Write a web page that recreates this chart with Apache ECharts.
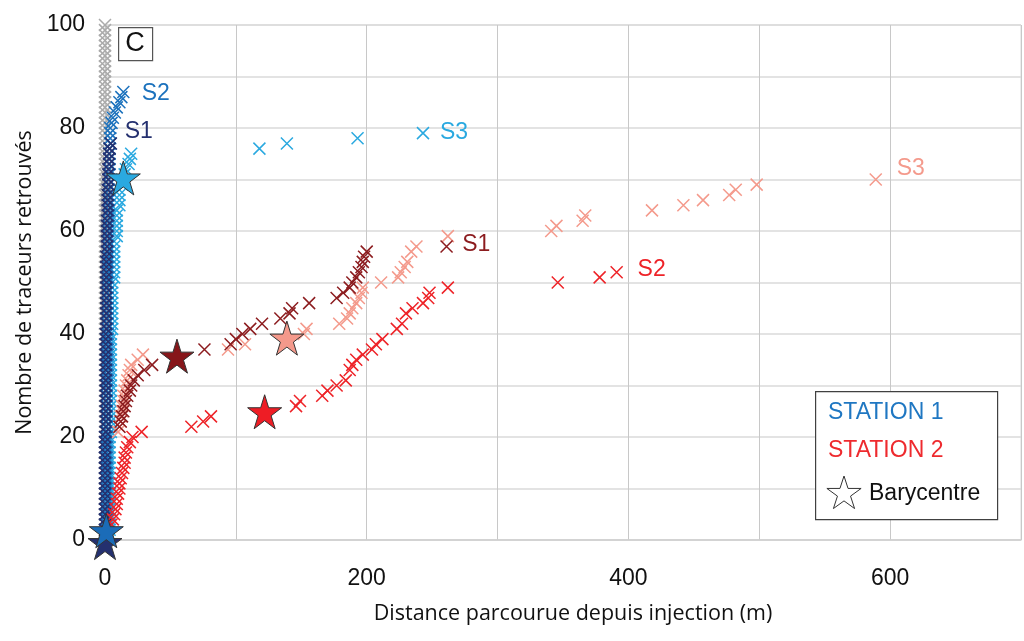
<!DOCTYPE html>
<html>
<head>
<meta charset="utf-8">
<script src="https://cdn.jsdelivr.net/npm/echarts@6/dist/echarts.min.js"></script>
<style>html,body{margin:0;padding:0;background:#fff}#c{width:1024px;height:641px}</style>
</head>
<body>
<div id="c"></div>
<script>
// ---------- DATA ----------
// Reference (grey) column
const grayX = [0,0,0,0,0,0,0,0,0,0, 0,0,0,0,0,0,0,0,0,0, 0,0,0,0,0,0,0,0,0,0, 0,0,0,0,0,0,0,0,0,0, 0,0,0,0,0,0,0,0,0,0, 0,0,0,0,0,0,0,0,0,0, 0,0,0,0,0,0,0,0,0,0, 0,0,0,0,0,0,0,0,0,0, 0,0,0,0,0,0,0,0,0,0, 0,0,0,0,0,0,0,0,0,0];
const grayY = [1,2,3,4,5,6,7,8,9,10, 11,12,13,14,15,16,17,18,19,20, 21,22,23,24,25,26,27,28,29,30, 31,32,33,34,35,36,37,38,39,40, 41,42,43,44,45,46,47,48,49,50, 51,52,53,54,55,56,57,58,59,60, 61,62,63,64,65,66,67,68,69,70, 71,72,73,74,75,76,77,78,79,80, 81,82,83,84,85,86,87,88,89,90, 91,92,93,94,95,96,97,98,99,100];

// STATION 1
const st1S1X = [0,0,0,0,0,0,0,0,0,0, 0,0,0,0,0,0,0,0,0,0, 0.5,0.5,0.5,0.5,0.5,0.5,0.5,0.5,0.5,0.5, 0.5,0.5,0.5,0.5,0.5,0.5,0.5,0.5,0.5,0.5, 1,1,1,1,1,1,1,1,1,1, 1,1,1,1,1, 1.5,1.5,1.5,1.5,1.5,1.5,1.5, 2,2,2,2,2,2, 2.5,2.5,2.5,2.5, 3,3,3, 3.5,4.5];
const st1S1Y = [1,2,3,4,5,6,7,8,9,10, 11,12,13,14,15,16,17,18,19,20, 21,22,23,24,25,26,27,28,29,30, 31,32,33,34,35,36,37,38,39,40, 41,42,43,44,45,46,47,48,49,50, 51,52,53,54,55, 56,57,58,59,60,61,62, 63,64,65,66,67,68, 69,70,71,72, 73,74,75, 76,77];

const st1S2X = [1.5,1.5,1.5,1.5,1.5,1.5,1.5,1.5,1.5,1.5, 1.5,1.5,1.5,1.5,1.5,1.5,1.5,1.5,1.5,1.5, 1.5,1.5,1.5,1.5,1.5,1.5,1.5,1.5,1.5,1.5, 2,2,2,2,2,2,2,2,2,2, 2,2,2,2,2,2,2,2,2,2, 2.5,2.5,2.5,2.5,2.5,2.5,2.5,2.5,2.5,2.5,2.5,2.5, 3,3,3,3,3,3,3,3, 3.5,3.5,3.5,3.5,3.5,3.5, 4,4,4, 4,5,6,7.5,9,11,12.5,14];
const st1S2Y = [1,2,3,4,5,6,7,8,9,10, 11,12,13,14,15,16,17,18,19,20, 21,22,23,24,25,26,27,28,29,30, 31,32,33,34,35,36,37,38,39,40, 41,42,43,44,45,46,47,48,49,50, 51,52,53,54,55,56,57,58,59,60,61,62, 63,64,65,66,67,68,69,70, 71,72,73,74,75,76, 77,78,79, 80,81,82,83,84,85,86,87];

const st1S3X = [3.5,3.5,3.5,3.5,3.5,3.5,3.5,3.5,3.5,3.5, 3.5,3.5,3.5,3.5,3.5,3.5,3.5,3.5,3.5,3.5, 4.5,4.5,4.5,4.5,4.5,4.5,4.5,4.5,4.5,4.5, 4.5,4.5,4.5,4.5,4.5,4.5,4.5,4.5,4.5,4.5, 5.5,5.5,5.5,5.5,5.5,5.5,5.5,5.5,5.5,5.5, 7,7,7,7,7,7,7,7, 9,9,9,9,9,9, 11,11,11,11, 13,13, 15,16,18,19,20, 118,139,193,243];
const st1S3Y = [1,2,3,4,5,6,7,8,9,10, 11,12,13,14,15,16,17,18,19,20, 21,22,23,24,25,26,27,28,29,30, 31,32,33,34,35,36,37,38,39,40, 41,42,43,44,45,46,47,48,49,50, 51,52,53,54,55,56,57,58, 59,60,61,62,63,64, 65,66,67,68, 69,70, 71,72,73,74,75, 76,77,78,79];

// STATION 2
const st2S1X = [11,12,13,14,15,16,17,19,20,22,25,30,36,76,96,100,105,111,120,134,141,143,156,177,182,187,189,192,194,196,197,198,200,261];
const st2S1Y = [22,23,24,25,26,27,28,29,30,31,32,33,34,37,38,39,40,41,42,43,44,45,46,47,48,49,50,51,52,53,54,55,56,57];

const st2S2X = [5,6,7,8,9,9,10,11,11,12,13,14,15,15,16,17,19,21,28,66,75,81,146,149,166,170,177,184,187,189,192,197,204,207,212,223,227,230,235,243,247,248,262,346,378,391];
const st2S2Y = [3,4,5,6,7,8,9,10,11,12,13,14,15,16,17,18,19,20,21,22,23,24,26,27,28,29,30,31,33,34,35,36,37,38,39,41,42,44,45,46,47,48,49,50,51,52];

const st2S3X = [10,11,12,12,13,13,14,14,15,16,17,18,19,20,25,29,94,107,152,154,179,185,187,189,192,194,196,197,211,224,226,229,231,234,238,262,341,345,365,367,418,442,457,477,482,498,589];
const st2S3Y = [21,22,23,24,25,26,27,28,29,30,31,32,33,34,35,36,37,38,40,41,42,43,44,45,46,47,48,49,50,51,52,53,54,56,57,59,60,61,62,63,64,65,66,67,68,69,70];

// Barycentres (stars): Station1 S1, S2, S3, Station2 S1, S2, S3
const baryX = [0, 1, 14, 55, 122, 139];
const baryY = [-0.5, 1.8, 70.3, 35.7, 24.9, 39.2];

// Series labels
const labelText = ['S2', 'S1', 'S3', 'S3', 'S1', 'S2'];
const labelX = [28, 15, 256, 605, 273, 407];
const labelY = [86.6, 79.2, 79, 72.2, 57.3, 52.4];

const xTicks = [0, 200, 400, 600];
const yTicks = [0, 20, 40, 60, 80, 100];

// ---------- STYLE ----------
const C = {
  gray: '#ababab',
  s1a: '#24306f', s1b: '#1c72bd', s1c: '#2aa9e0',
  s2a: '#8c1c1f', s2b: '#ee2328', s2c: '#f49a8c'
};
const labelColors = [C.s1b, C.s1a, C.s1c, C.s2c, C.s2a, C.s2b];
const starColors = [C.s1a, '#1b6cb8', C.s1c, '#86161a', '#ee1d25', '#f4998b'];
const CROSS = 'path://M0,0L10,10M0,10L10,0';
const STAR = 'path://M50,2L61.2,36.6L97.6,36.6L68.2,58L79.4,92.6L50,71.2L20.6,92.6L31.8,58L2.4,36.6L38.8,36.6Z';
const FONT = 'Liberation Sans, Arial, sans-serif';

function zip(xs, ys) { return xs.map((x, i) => [x, ys[i]]); }
function crossSeries(xs, ys, color, z) {
  return {
    type: 'scatter', data: zip(xs, ys), symbol: CROSS, symbolSize: 12, silent: true, z: z,
    itemStyle: { color: 'rgba(0,0,0,0)', borderColor: color, borderWidth: 1.5, opacity: 1 },
    emphasis: { disabled: true }
  };
}

const series = [
  crossSeries(grayX, grayY, C.gray, 2),
  crossSeries(st1S3X, st1S3Y, C.s1c, 3),
  crossSeries(st1S2X, st1S2Y, C.s1b, 4),
  crossSeries(st1S1X, st1S1Y, C.s1a, 5),
  crossSeries(st2S3X, st2S3Y, C.s2c, 6),
  crossSeries(st2S1X, st2S1Y, C.s2a, 7),
  crossSeries(st2S2X, st2S2Y, C.s2b, 8),
  {
    type: 'scatter', symbol: STAR, symbolSize: 34, clip: false, silent: true, z: 10,
    data: baryX.map((x, i) => ({ value: [x, baryY[i]], itemStyle: { color: starColors[i], opacity: 1 } })),
    itemStyle: { borderColor: '#333', borderWidth: 1, opacity: 1 }
  },
  {
    type: 'scatter', symbolSize: 0, silent: true, z: 11,
    itemStyle: { opacity: 1 },
    data: labelX.map((x, i) => ({
      value: [x, labelY[i]],
      itemStyle: { opacity: 1 },
      label: { show: true, formatter: labelText[i], color: labelColors[i], position: 'right', distance: 0,
               fontSize: 23, fontFamily: FONT, opacity: 1 }
    }))
  }
];

function starPts(cx, cy, R) {
  const pts = [];
  const r = R * 0.382;
  for (let k = 0; k < 10; k++) {
    const a = -Math.PI / 2 + k * Math.PI / 5;
    const rr = k % 2 === 0 ? R : r;
    pts.push([cx + rr * Math.cos(a), cy + rr * Math.sin(a)]);
  }
  return pts;
}

const chart = echarts.init(document.getElementById('c'), null, { renderer: 'canvas' });
chart.setOption({
  animation: false,
  backgroundColor: '#fff',
  grid: { left: 105, right: 3, top: 25, bottom: 101, show: true, borderColor: '#d9d9d9', borderWidth: 1 },
  xAxis: {
    type: 'value', min: 0, max: 700, interval: 100,
    name: 'Distance parcourue depuis injection (m)', nameLocation: 'middle', nameGap: 63,
    nameTextStyle: { fontSize: 21.5, fontFamily: 'Open Sans, sans-serif', color: '#111', padding: [0, 0, 0, 20] },
    axisLine: { show: true, lineStyle: { color: '#d0d0d0', width: 1.5 } },
    axisTick: { show: false },
    axisLabel: { fontSize: 23, fontFamily: FONT, color: '#111', margin: 27,
                 formatter: v => xTicks.indexOf(v) >= 0 ? String(v) : '' },
    splitLine: { show: true, lineStyle: { color: '#c8c8c8', width: 1 } }
  },
  yAxis: {
    type: 'value', min: 0, max: 100, interval: 10,
    name: 'Nombre de traceurs retrouvés', nameLocation: 'middle', nameGap: 62,
    nameTextStyle: { fontSize: 21.5, fontFamily: 'Open Sans, sans-serif', color: '#111' },
    axisLine: { show: false }, axisTick: { show: false },
    axisLabel: { fontSize: 23, fontFamily: FONT, color: '#111', margin: 20,
                 formatter: v => yTicks.indexOf(v) >= 0 ? String(v) : '' },
    splitLine: { show: true, lineStyle: { color: '#dadada', width: 1.5 } }
  },
  series: series,
  graphic: [
    { type: 'rect', left: 118, top: 27, shape: { width: 34, height: 33 }, z: 20,
      style: { fill: '#fff', stroke: '#555', lineWidth: 1.2 } },
    { type: 'text', x: 135, y: 44, z: 21,
      style: { text: 'C', fontSize: 27, fontFamily: FONT, fill: '#111', align: 'center', verticalAlign: 'middle' } },
    { type: 'rect', left: 815, top: 391, shape: { width: 182, height: 128 }, z: 20,
      style: { fill: '#fff', stroke: '#404040', lineWidth: 1.2 } },
    { type: 'text', x: 828, y: 413, z: 21,
      style: { text: 'STATION 1', fontSize: 23, fontFamily: FONT, fill: '#1f77c2', verticalAlign: 'middle' } },
    { type: 'text', x: 828, y: 451, z: 21,
      style: { text: 'STATION 2', fontSize: 23, fontFamily: FONT, fill: '#ee2a2e', verticalAlign: 'middle' } },
    { type: 'polygon', z: 21, shape: { points: starPts(844, 494, 18) },
      style: { fill: '#fff', stroke: '#333', lineWidth: 1 } },
    { type: 'text', x: 869, y: 494, z: 21,
      style: { text: 'Barycentre', fontSize: 23, fontFamily: FONT, fill: '#111', verticalAlign: 'middle' } }
  ]
});
</script>
</body>
</html>
